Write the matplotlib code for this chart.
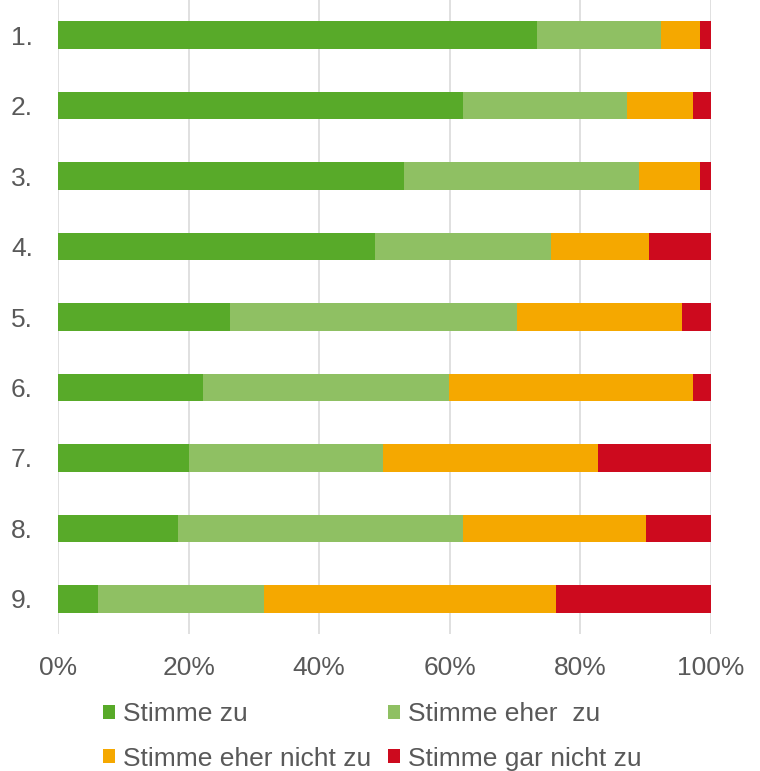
import numpy as np
import matplotlib.pyplot as plt
from matplotlib.ticker import PercentFormatter

plt.rcParams['font.family'] = ['Liberation Sans', 'DejaVu Sans']

# rows 1. to 9., shares in percent
items = ['1.', '2.', '3.', '4.', '5.', '6.', '7.', '8.', '9.']
stimme_zu = [73.4, 62.0, 53.0, 48.5, 26.3, 22.2, 20.0, 18.4, 6.1]
eher_zu = [18.9, 25.2, 35.9, 27.0, 44.0, 37.7, 29.8, 43.6, 25.4]
eher_nicht = [6.0, 10.0, 9.4, 15.0, 25.3, 37.3, 32.9, 28.0, 44.8]
gar_nicht = [1.7, 2.8, 1.7, 9.5, 4.4, 2.8, 17.3, 10.0, 23.7]

labels = ['Stimme zu', 'Stimme eher  zu', 'Stimme eher nicht zu', 'Stimme gar nicht zu']
colors = ['#58AA29', '#8FC063', '#F5A800', '#CD0A1E']
grey = '#595959'

fig = plt.figure(figsize=(7.6, 7.71), dpi=100)
ax = fig.add_axes([58/760, 1 - 634/771, 653/760, 634/771])

ind = np.arange(len(items))
left = np.zeros(len(items))
bars = []
for vals, col, lab in zip([stimme_zu, eher_zu, eher_nicht, gar_nicht], colors, labels):
    b = ax.barh(ind, vals, 0.39, left=left, color=col, label=lab, zorder=2)
    bars.append(b)
    left += np.array(vals)

ax.set_xlim(0, 100)
ax.set_ylim(len(items) - 0.5, -0.5)
ax.set_yticks(ind)
ax.set_yticklabels(items)
ax.set_xticks(np.arange(0, 101, 20))
ax.xaxis.set_major_formatter(PercentFormatter(decimals=0))

ax.grid(axis='x', color='#DADADA', linewidth=1.2, zorder=0)
for s in ax.spines.values():
    s.set_visible(False)
ax.tick_params(axis='both', length=0, labelsize=19, labelcolor=grey)
ax.tick_params(axis='y', pad=18)
ax.tick_params(axis='x', pad=16)

# legend: 2 columns, filled column-wise
order = [0, 2, 1, 3]
fig.legend([bars[i] for i in order], [labels[i] for i in order],
           loc='upper left', bbox_to_anchor=(103/760, 1 - 702/771),
           ncol=2, frameon=False, fontsize=19, labelcolor=grey,
           borderpad=0, borderaxespad=0, handlelength=0.45, handleheight=0.45,
           handletextpad=0.3, columnspacing=0.65, labelspacing=0.78)

fig.savefig('out.png', dpi=100)
